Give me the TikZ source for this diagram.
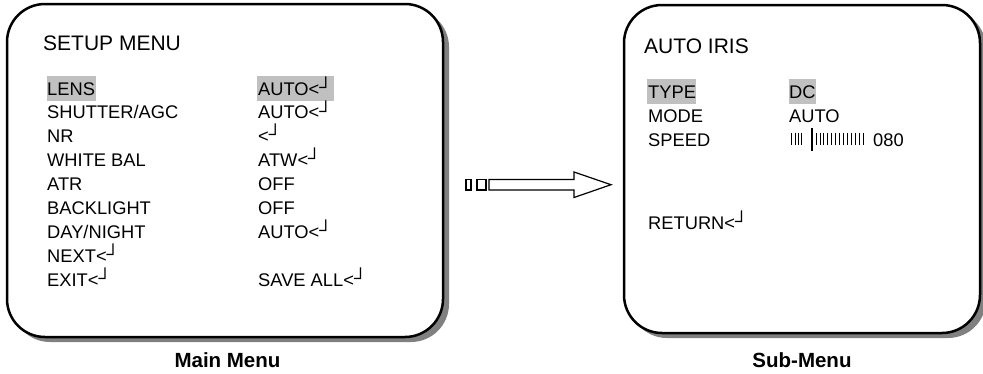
\documentclass[tikz,border=0pt]{standalone}
\usepackage{fontspec}
\setmainfont{Liberation Sans}
\newcommand\retsym{<\raisebox{0.1em}{┘}}
\definecolor{hlgray}{HTML}{C0C0C0}
\definecolor{shadowgray}{HTML}{808080}
\tikzset{
  menubox/.style={draw=black, fill=white, line width=2.5pt, rounded corners=38pt},
  item/.style={anchor=base west, inner sep=0pt, font=\fontsize{18.3}{22}\selectfont},
  ttl/.style={anchor=base west, inner sep=0pt, font=\fontsize{21}{25}\selectfont},
  captxt/.style={anchor=base, inner sep=0pt, font=\fontsize{20.5}{24}\selectfont\bfseries},
  hl/.style={fill=hlgray},
  arr/.style={draw=black, line width=1.2pt, fill=white},
  tickln/.style={line width=0.8pt},
}
\begin{document}
\begin{tikzpicture}[x=1pt,y=-1pt]
\useasboundingbox (0,0) rectangle (983,373);
\begin{scope}
\clip (0,0) rectangle (983,373);
% main box
\fill[shadowgray, rounded corners=38pt] (12,9) rectangle (449,342);
\draw[menubox] (7,4) rectangle (443,337);
% sub box
\fill[shadowgray, rounded corners=38pt] (629,10) rectangle (986,338);
\draw[menubox] (624,5) rectangle (980,333);
\end{scope}
% highlights
\fill[hl] (47,76) rectangle (96,100.5);
\fill[hl] (257,76) rectangle (334,100.5);
\fill[hl] (647,79) rectangle (696,103.5);
\fill[hl] (789,79) rectangle (816,103.5);
% main menu texts
\node[ttl] (title) at (43,50) {SETUP MENU};
\node[item] (l1) at (47,95) {LENS};
\node[item] (l2) at (47,118.9) {SHUTTER/AGC};
\node[item] (l3) at (47,142.8) {NR};
\node[item] (l4) at (47,166.7) {WHITE BAL};
\node[item] (l5) at (47,190.6) {ATR};
\node[item] (l6) at (47,214.5) {BACKLIGHT};
\node[item] (l7) at (47,238.4) {DAY/NIGHT};
\node[item] (l8) at (47,262.3) {NEXT\retsym};
\node[item] (l9) at (47,286.2) {EXIT\retsym};
\node[item] (r1) at (258,95) {AUTO\retsym};
\node[item] (r2) at (258,118.9) {AUTO\retsym};
\node[item] (r3) at (258,142.8) {\retsym};
\node[item] (r4) at (258,166.7) {ATW\retsym};
\node[item] (r5) at (258,190.6) {OFF};
\node[item] (r6) at (258,214.5) {OFF};
\node[item] (r7) at (258,238.4) {AUTO\retsym};
\node[item] (r9) at (258,286.2) {SAVE ALL\retsym};
% sub menu texts
\node[ttl] (stitle) at (644,53) {AUTO IRIS};
\node[item] (s1) at (648,98) {TYPE};
\node[item] (s2) at (648,122) {MODE};
\node[item] (s3) at (648,146) {SPEED};
\node[item] (s4) at (648,229) {RETURN\retsym};
\node[item] (t1) at (789,98) {DC};
\node[item] (t2) at (789,122) {AUTO};
\node[item] (t3) at (873,146) {080};
% speed bar
\foreach \i in {0,...,3} \draw[tickln] (791.7+3.3*\i,132.5) -- (791.7+3.3*\i,145);
\draw[line width=1.6pt] (811.7,128) -- (811.7,151);
\foreach \i in {0,...,12} \draw[tickln] (816+3.94*\i,132.5) -- (816+3.94*\i,145);
% arrow
\draw[arr] (466,179.5) rectangle (471,190);
\draw[arr] (477,179.5) rectangle (486,190);
\draw[arr, line join=miter] (489,179.5) -- (574,179.5) -- (574,172) -- (611,184.7) -- (574,197.5) -- (574,190) -- (489,190) -- cycle;
% captions
\node[captxt] (c1) at (227.5,367) {Main Menu};
\node[captxt] (c2) at (802,367) {Sub-Menu};
\end{tikzpicture}
\end{document}
